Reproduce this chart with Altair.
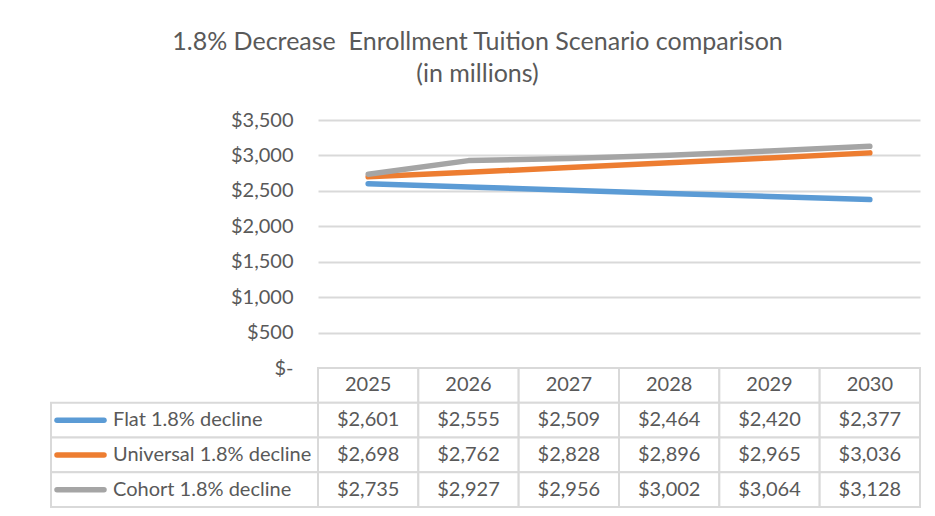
import altair as alt
import pandas as pd

years = [2025, 2026, 2027, 2028, 2029, 2030]
series = ["Flat 1.8% decline", "Universal 1.8% decline", "Cohort 1.8% decline"]
flat = [2601, 2555, 2509, 2464, 2420, 2377]
universal = [2698, 2762, 2828, 2896, 2965, 3036]
cohort = [2735, 2927, 2956, 3002, 3064, 3128]
colors = ["#5B9BD5", "#ED7D31", "#A5A5A5"]
y_ticks = [0, 500, 1000, 1500, 2000, 2500, 3000, 3500]
title_lines = ["1.8% Decrease\u00a0 Enrollment Tuition Scenario comparison", "(in millions)"]

TEXT = "#595959"
GRID = "#D9D9D9"
FONT = "Lato"

PLOT_W = 602
LEFT_W = 267
PLOT_H = 248
TABLE_H = 139

# long data for the lines
rows = []
for name, vals in zip(series, [flat, universal, cohort]):
    for yr, v in zip(years, vals):
        rows.append({"year": str(yr), "series": name, "value": v})
df = pd.DataFrame(rows)

# data table cells
tab_rows = [{"year": str(yr), "row": "hdr", "label": str(yr)} for yr in years]
for name, vals in zip(series, [flat, universal, cohort]):
    for yr, v in zip(years, vals):
        tab_rows.append({"year": str(yr), "row": name, "label": f"${v:,}"})
tdf = pd.DataFrame(tab_rows)
row_domain = ["hdr"] + series

ldf = pd.DataFrame({"row": series, "col": ["legend"] * len(series)})

color_scale = alt.Scale(domain=series, range=colors)

line = alt.Chart(df).mark_line(strokeWidth=5.5, strokeCap="round", strokeJoin="round").encode(
    x=alt.X("year:O", scale=alt.Scale(type="point", padding=0.5), axis=None),
    y=alt.Y(
        "value:Q",
        scale=alt.Scale(domain=[0, 3500], nice=False, zero=True),
        axis=alt.Axis(
            values=y_ticks,
            title=None,
            labelExpr="datum.value == 0 ? '$-\u00a0\u00a0' : format(datum.value, '$,')",
            grid=True,
            gridColor=GRID,
            gridWidth=2,
            domain=False,
            ticks=False,
            labelPadding=25,
            labelFontSize=20,
            labelColor=TEXT,
            labelFont=FONT,
            labelFlush=False,
        ),
    ),
    color=alt.Color("series:N", scale=color_scale, legend=None),
).properties(width=PLOT_W, height=PLOT_H)

ys = alt.Y("row:N", scale=alt.Scale(domain=row_domain, paddingInner=0, paddingOuter=0), axis=None)
xs = alt.X("year:O", scale=alt.Scale(paddingInner=0, paddingOuter=0), axis=None)

cells = alt.Chart(tdf).mark_rect(fill="white", stroke=GRID, strokeWidth=2).encode(x=xs, y=ys)
texts = alt.Chart(tdf).mark_text(fontSize=20, color=TEXT, font=FONT).encode(x=xs, y=ys, text="label:N")
values_table = alt.layer(cells, texts).properties(width=PLOT_W, height=TABLE_H)

lx = alt.X("col:N", scale=alt.Scale(paddingInner=0, paddingOuter=0), axis=None)
lcells = alt.Chart(ldf).mark_rect(fill="white", stroke=GRID, strokeWidth=2).encode(x=lx, y=ys)
swatch = alt.Chart(ldf).mark_rule(strokeWidth=5.5, strokeCap="round").encode(
    x=alt.value(6), x2=alt.value(53), y=ys,
    color=alt.Color("row:N", scale=color_scale, legend=None),
)
ltext = alt.Chart(ldf).mark_text(align="left", fontSize=20, color=TEXT, font=FONT).encode(
    x=alt.value(62), y=ys, text="row:N"
)
legend_table = alt.layer(lcells, swatch, ltext).properties(width=LEFT_W, height=TABLE_H)

top_left = alt.Chart(pd.DataFrame({"v": [0]})).mark_point(opacity=0).encode(
    x=alt.X("v:Q", axis=None), y=alt.Y("v:Q", axis=None)
).properties(width=LEFT_W, height=PLOT_H)

chart = alt.concat(
    top_left, line, legend_table, values_table,
    columns=2, spacing=0, bounds="flush",
    title=alt.TitleParams(
        text=title_lines, fontSize=25, font=FONT, color=TEXT, fontWeight="normal",
        anchor="middle", lineHeight=32, offset=23, dx=-8,
    ),
).resolve_scale(x="independent", y="independent").properties(
    padding={"left": 42, "top": 22, "right": 5, "bottom": 0}
).configure(font=FONT).configure_view(stroke=None)

chart.save("out.html", embed_options={"renderer": "svg", "actions": False})
